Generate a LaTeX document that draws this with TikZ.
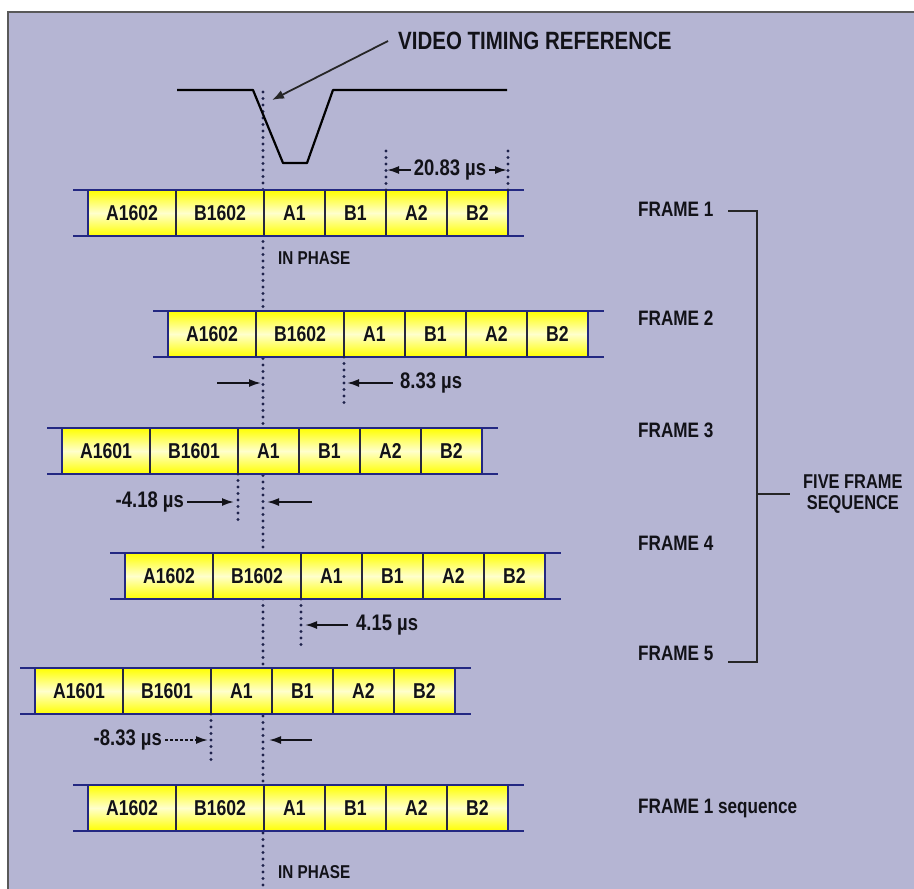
\documentclass[tikz,border=0pt]{standalone}
\usepackage{fontspec}
\setmainfont{Liberation Sans}[FakeStretch=0.82]
\usetikzlibrary{arrows.meta,positioning}
\definecolor{bgcol}{RGB}{181,181,211}
\definecolor{railcol}{RGB}{35,40,130}
\definecolor{edgecol}{RGB}{40,40,62}
\definecolor{inkcol}{RGB}{18,18,24}
\definecolor{dotcol}{RGB}{30,34,75}
\tikzset{slot/.style={draw=edgecol,line width=1.8pt,outer sep=0pt,inner sep=0pt,minimum height=46pt,top color=yellow,bottom color=yellow,middle color=yellow!20!white,text=inkcol,font=\fontsize{21.5}{22}\selectfont\bfseries},slotwide/.style={slot,minimum width=88pt},slotnarrow/.style={slot,minimum width=61pt},rail/.style={railcol,line width=2.2pt},ref/.style={dotcol,line width=3.2pt,line cap=round,dash pattern=on 0pt off 6.5pt},dim/.style={-{Latex[length=12pt,width=8pt]},inkcol,line width=1.8pt},lab/.style={text=inkcol,inner sep=0pt,font=\fontsize{20.9}{18}\selectfont\bfseries},dimlab/.style={text=inkcol,inner sep=0pt,font=\fontsize{22.5}{22}\selectfont\bfseries},pulse/.style={black,line width=2.2pt,line join=round},brk/.style={black!85,line width=2.2pt}}

\begin{document}
\begin{tikzpicture}[x=1pt,y=-1pt]
\useasboundingbox (0,0) rectangle (914,889);
\fill[white] (0,0) rectangle (914,889);
\fill[bgcol] (8,12) rectangle (914,889);
\draw[gray!70!black,line width=1.5pt] (8,889) -- (8,12) -- (914,12);
% timing reference
\coordinate (ref-top) at (263,92);
\coordinate (ref-bot) at (263,886);
\draw[ref] (ref-top) -- (ref-bot);
\draw[pulse] (177,90) -- (253,90) -- (283,163) -- (307,163) -- (333,90) -- (507,90);
\node[lab,anchor=west,font=\fontsize{25}{24}\selectfont\bfseries] (vtr) at (398,41) {VIDEO TIMING REFERENCE};
\coordinate (edge) at (272,100);
\draw[-{Latex[length=12pt,width=9pt]},gray!30!black,line width=1.8pt] ([xshift=-10pt]vtr.west) -- (edge);
% frames
\foreach \r/\x/\y/\n in {fa/88/190/1602,fb/168/311/1602,fc/62/428/1601,fd/125/553/1602,fe/35/668/1601,ff/88/785/1602}{
  \node[slotwide,anchor=north west] (\r-1) at (\x,\y) {A\n};
  \node[slotwide,right=0pt of \r-1] (\r-2) {B\n};
  \node[slotnarrow,right=0pt of \r-2] (\r-3) {A1};
  \node[slotnarrow,right=0pt of \r-3] (\r-4) {B1};
  \node[slotnarrow,right=0pt of \r-4] (\r-5) {A2};
  \node[slotnarrow,right=0pt of \r-5] (\r-6) {B2};
  \draw[rail] ([xshift=-15pt]\r-1.north west) -- ([xshift=16pt]\r-6.north east);
  \draw[rail] ([xshift=-15pt]\r-1.south west) -- ([xshift=16pt]\r-6.south east);
  \draw[rail] (\r-1.north west) -- (\r-1.south west);
  \draw[rail] (\r-6.north east) -- (\r-6.south east);
}
% frame 1
\draw[ref] (fa-5.north west) -- ++(0,-45);
\draw[ref] (fa-6.north east) -- ++(0,-45);
\node[dimlab] (d1) at (450,170) {20.83 µs};
\coordinate (q1) at (d1.west -| fa-5.north west);
\coordinate (s1) at (d1.east -| fa-6.north east);
\draw[dim] ([xshift=-3pt]d1.west) -- ([xshift=1pt]q1);
\draw[dim] ([xshift=3pt]d1.east) -- ([xshift=-1pt]s1);
\node[lab,anchor=west,font=\fontsize{18.6}{18}\selectfont\bfseries] (ph1) at (278,258) {IN PHASE};
% frame 2
\draw[ref] (fb-3.south west) -- ++(0,47);
\node[dimlab,anchor=west] (d2) at (400,383) {8.33 µs};
\coordinate (q2) at (d2.west -| fb-3.south west);
\coordinate (r2) at (d2.west -| ref-top);
\draw[dim] ([xshift=-7pt]d2.west) -- ([xshift=3pt]q2);
\draw[dim] ([xshift=-46pt]r2) -- ([xshift=-2pt]r2);
% frame 3
\draw[ref] (fc-3.south west) -- ++(0,47);
\node[dimlab,anchor=east] (d3) at (184,502) {-4.18 µs};
\coordinate (q3) at (d3.east -| fc-3.south west);
\coordinate (r3) at (d3.east -| ref-top);
\draw[dim] ([xshift=3pt]d3.east) -- ([xshift=-4pt]q3);
\draw[dim] ([xshift=49pt]r3) -- ([xshift=4pt]r3);
% frame 4
\draw[ref] (fd-3.south west) -- ++(0,47);
\node[dimlab,anchor=west] (d4) at (356,625) {4.15 µs};
\coordinate (q4) at (d4.west -| fd-3.south west);
\draw[dim] ([xshift=-8pt]d4.west) -- ([xshift=4pt]q4);
% frame 5
\draw[ref] (fe-3.south west) -- ++(0,47);
\node[dimlab,anchor=east] (d5) at (162,740) {-8.33 µs};
\coordinate (q5) at (d5.east -| fe-3.south west);
\coordinate (r5) at (d5.east -| ref-top);
\draw[dim,densely dashed] ([xshift=3pt]d5.east) -- ([xshift=-3pt]q5);
\draw[dim] ([xshift=49pt]r5) -- ([xshift=6pt]r5);
% frame 1 sequence
\node[lab,anchor=west,font=\fontsize{18.6}{18}\selectfont\bfseries] (ph2) at (278,872) {IN PHASE};
% labels and bracket
\node[lab,anchor=west] (l1) at (638,209) {FRAME 1};
\node[lab,anchor=west] (l2) at (638,318) {FRAME 2};
\node[lab,anchor=west] (l3) at (638,430) {FRAME 3};
\node[lab,anchor=west] (l4) at (638,543) {FRAME 4};
\node[lab,anchor=west] (l5) at (638,653) {FRAME 5};
\node[lab,anchor=west] (l6) at (638,808) {FRAME 1 sequence};
\coordinate (bt) at (757,211);
\coordinate (bb) at (757,662);
\draw[brk] ([xshift=-29pt]bt) -- (bt) -- (bb) -- ([xshift=-29pt]bb);
\node[lab,align=center,anchor=west,font=\fontsize{20}{21}\selectfont\bfseries] (five) at (803,494) {FIVE FRAME\\SEQUENCE};
\draw[brk] (bt |- five.west) -- ([xshift=-13pt]five.west);
\end{tikzpicture}
\end{document}
